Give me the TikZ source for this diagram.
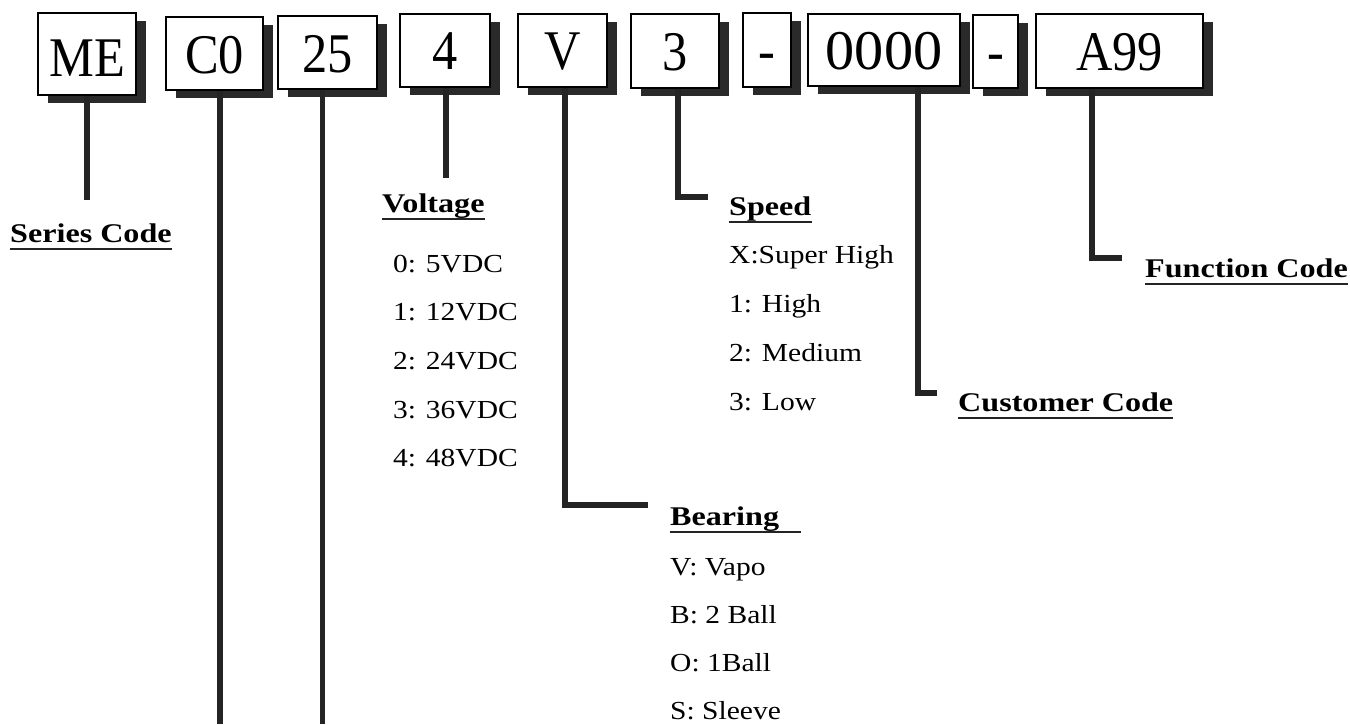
\documentclass[tikz,border=0pt]{standalone}
\usepackage{fontspec}
\setmainfont{Liberation Serif}
\newfontfamily\boxfont[FakeStretch=0.9]{Liberation Serif}
\newfontfamily\wideboxfont[FakeStretch=1.04]{Liberation Serif}
\newfontfamily\lblfont[FakeStretch=1.19]{Liberation Serif}
\newfontfamily\listfont[FakeStretch=1.135]{Liberation Serif}
\usetikzlibrary{shadows}
\definecolor{inkc}{HTML}{242424}
\definecolor{shadc}{HTML}{2A2A2A}
\tikzset{
  codebox/.style={draw=black, line width=1.6pt, fill=white, inner sep=0pt,
    text height=38pt, text depth=0pt,
    font={\boxfont\fontsize{56}{60}\selectfont},
    drop shadow={shadow xshift=10pt, shadow yshift=-8pt, fill=shadc, opacity=1}},
  conn/.style={draw=inkc, line width=5.5pt},
  lbl/.style={anchor=base west, inner sep=0pt, font={\lblfont\bfseries\fontsize{27}{30}\selectfont}},
  ul/.style={draw=inkc, line width=2.4pt},
  itm/.style={anchor=base west, inner sep=0pt, font={\listfont\fontsize{26}{29}\selectfont}}
}
\begin{document}
\begin{tikzpicture}[x=1pt,y=-1pt]
\useasboundingbox (0,0) rectangle (1350,724);
% code boxes
\node[codebox, minimum width=98pt, minimum height=82pt, text height=44pt] (me) at (87,54) {ME};
\node[codebox, minimum width=97pt, minimum height=73pt, text height=39pt] (c0) at (214.5,53.5) {C0};
\node[codebox, minimum width=99pt, minimum height=73pt, text height=39pt] (n25) at (327.5,52.5) {25};
\node[codebox, minimum width=90pt, minimum height=73pt] (v4) at (445,50.5) {4};
\node[codebox, minimum width=89pt, minimum height=73pt] (bv) at (562.5,50.5) {V};
\node[codebox, minimum width=88pt, minimum height=74pt] (s3) at (675,51) {3};
\node[codebox, minimum width=48pt, minimum height=74pt] (d1) at (767,50) {-};
\node[codebox, minimum width=152pt, minimum height=72pt, font={\wideboxfont\fontsize{56}{60}\selectfont}] (cu) at (884,50) {0000};
\node[codebox, minimum width=45pt, minimum height=73pt] (d2) at (995.5,51.5) {-};
\node[codebox, minimum width=167pt, minimum height=74pt] (fn) at (1119.5,51) {A99};
% connector ends
\coordinate (meend) at (87,200);
\coordinate (c0end) at (220,724);
\coordinate (n25end) at (322.5,724);
\coordinate (v4end) at (446,178);
\coordinate (bvend) at (648,505);
\coordinate (s3end) at (708,197);
\coordinate (cuend) at (937,393);
\coordinate (fnend) at (1122,258);
% connectors
\draw[conn] (me.south) -- (meend);
\draw[conn] ([xshift=5.5pt]c0.south) -- (c0end);
\draw[conn] ([xshift=-5pt]n25.south) -- (n25end);
\draw[conn] ([xshift=1pt]v4.south) -- (v4end);
\draw[conn] ([xshift=2.5pt]bv.south) |- (bvend);
\draw[conn] ([xshift=3pt]s3.south) |- (s3end);
\draw[conn] ([xshift=34pt]cu.south) |- (cuend);
\draw[conn] ([xshift=-27.5pt]fn.south) |- (fnend);
% labels
\node[lbl] (ser) at (10,242) {Series Code};
\node[lbl] (vol) at (382,212) {Voltage};
\node[lbl] (spd) at (729,215) {Speed};
\node[lbl] (fun) at (1145,277) {Function Code};
\node[lbl] (cus) at (958,411) {Customer Code};
\node[lbl] (bea) at (670,525) {Bearing};
\foreach \n in {ser,vol,spd,fun,cus}{
  \draw[ul] ([yshift=-7pt]\n.base west) -- ([yshift=-7pt]\n.base east);
}
\draw[ul] ([yshift=-7pt]bea.base west) -- ([yshift=-7pt,xshift=22pt]bea.base east);
% voltage list
\node[itm] (vo0) at (393,272) {0: 5VDC};
\node[itm] (vo1) at (393,320.7) {1: 12VDC};
\node[itm] (vo2) at (393,369.4) {2: 24VDC};
\node[itm] (vo3) at (393,418.1) {3: 36VDC};
\node[itm] (vo4) at (393,466.8) {4: 48VDC};
% speed list
\node[itm] (sp0) at (729,263) {X:Super High};
\node[itm] (sp1) at (729,312) {1: High};
\node[itm] (sp2) at (729,361) {2: Medium};
\node[itm] (sp3) at (729,410) {3: Low};
% bearing list
\node[itm] (be0) at (670,575) {V: Vapo};
\node[itm] (be1) at (670,623) {B: 2 Ball};
\node[itm] (be2) at (670,671) {O: 1Ball};
\node[itm] (be3) at (670,719) {S: Sleeve};
\end{tikzpicture}
\end{document}
